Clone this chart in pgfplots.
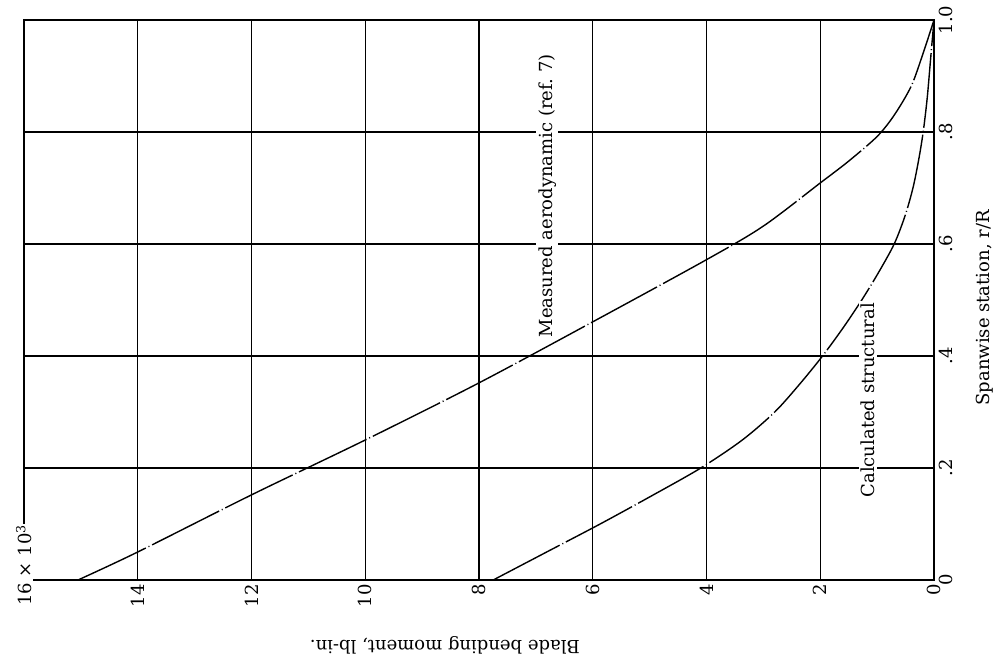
\documentclass[border=0pt]{standalone}
\usepackage{fontspec}
\setmainfont{DejaVu Serif}
\usepackage{pgfplots}
\pgfplotsset{compat=1.18}
\begin{document}
\begin{tikzpicture}[font=\fontsize{18}{21}\selectfont]
\begin{axis}[
  scale only axis, width=910pt, height=560pt,
  x dir=reverse, xmin=0, xmax=16, ymin=0, ymax=1,
  xtick={0,2,4,6,8,10,12,14,16},
  xticklabels={0,2,4,6,8,10,12,14,{}},
  ytick={0,0.2,0.4,0.6,0.8,1},
  yticklabels={0,.2,.4,.6,.8,1.0},
  xticklabel pos=lower, yticklabel pos=upper,
  grid=major, major grid style={black, line width=1.1pt},
  major tick length=0pt,
  axis line style={line width=2pt},
  xticklabel style={rotate=90, anchor=east, inner sep=4pt},
  yticklabel style={rotate=90, anchor=north, inner sep=5pt},
  clip=false,
]
\coordinate (ll) at (axis cs:16,0);
\addplot[black, line width=1.4pt, smooth, tension=0.5, dash pattern=on 75pt off 3pt on 1pt off 3pt] coordinates {
 (15.05,0) (14,0.05) (12,0.152) (10,0.25) (8,0.352) (6,0.461) (4,0.572) (3,0.632)
 (2,0.709) (1.5,0.748) (1.0,0.792) (0.7,0.83) (0.4,0.882) (0.19,0.941) (0,1.0)};
\addplot[black, line width=1.4pt, smooth, tension=0.5, dash pattern=on 75pt off 3pt on 1pt off 3pt] coordinates {
 (7.75,0) (6.81,0.05) (5.87,0.1) (4.97,0.15) (4.10,0.2) (3.37,0.25) (2.80,0.30) (2.36,0.35)
 (1.96,0.4) (1.60,0.45) (1.27,0.5) (0.97,0.55) (0.70,0.6) (0.51,0.65) (0.37,0.7) (0.27,0.75)
 (0.19,0.8) (0.12,0.86) (0.06,0.93) (0,1)};
\node[rotate=90, fill=white, inner sep=2pt] at (axis cs:6.8,0.686) {Measured aerodynamic (ref.\ 7)};
\node[rotate=90, fill=white, inner sep=2pt] at (axis cs:1.16,0.321) {Calculated structural};
\node[rotate=90] at (axis cs:-0.9,0.486) {Spanwise station, r/R};
\node[rotate=180] at (axis cs:8.6,-0.116) {Blade bending moment, lb-in.};
\node[rotate=90, anchor=west, fill=white, inner sep=1pt] at (axis cs:16,-0.048) {16 × 10\textsuperscript{3}};
\end{axis}
\pgfresetboundingbox
\path (ll) ++(-24pt,-84pt) rectangle ++(999pt,664pt);
\end{tikzpicture}
\end{document}
